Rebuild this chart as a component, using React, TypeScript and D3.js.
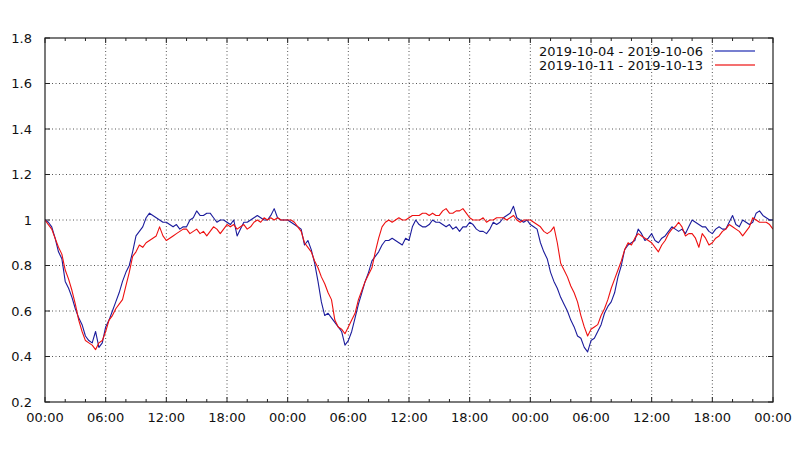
import * as d3 from "d3"

// 20-minute samples, 00:00 on day 1 through 00:00 after day 3
const week1 = [
  1.0, 0.99, 0.97, 0.92, 0.86, 0.83, 0.73, 0.7, 0.66, 0.61, 0.57, 0.54,
  0.49, 0.47, 0.46, 0.51, 0.44, 0.46, 0.53, 0.56, 0.6, 0.64, 0.68, 0.73,
  0.77, 0.8, 0.86, 0.93, 0.95, 0.97, 1.01, 1.03, 1.02, 1.01, 1.0, 0.99,
  0.99, 0.98, 0.97, 0.98, 0.96, 0.97, 0.97, 1.0, 1.01, 1.04, 1.02, 1.02,
  1.03, 1.03, 1.01, 0.99, 1.0, 1.0, 0.99, 0.98, 1.0, 0.93, 0.96, 0.99,
  0.99, 1.0, 1.01, 1.02, 1.01, 1.0, 1.0, 1.02, 1.05, 1.01, 1.0, 1.0,
  1.0, 0.99, 0.98, 0.97, 0.96, 0.89, 0.91, 0.87, 0.81, 0.73, 0.64, 0.58,
  0.59, 0.57, 0.55, 0.53, 0.51, 0.45, 0.47, 0.51, 0.57, 0.63, 0.68, 0.73,
  0.77, 0.82, 0.84, 0.86, 0.89, 0.91, 0.91, 0.92, 0.91, 0.9, 0.89, 0.92,
  0.91, 0.97, 1.0, 0.98, 0.97, 0.97, 0.98, 1.0, 0.99, 0.99, 0.98, 0.97,
  0.98, 0.96, 0.97, 0.95, 0.97, 0.97, 0.99, 0.98, 0.96, 0.95, 0.95, 0.94,
  0.96, 0.99, 0.98, 0.99, 1.01, 1.02, 1.03, 1.06, 1.01, 1.0, 0.99, 1.0,
  0.98, 0.97, 0.96, 0.9, 0.86, 0.83, 0.77, 0.73, 0.7, 0.66, 0.63, 0.6,
  0.56, 0.53, 0.49, 0.48, 0.44, 0.42, 0.47, 0.48, 0.51, 0.54, 0.59, 0.62,
  0.64, 0.68, 0.75, 0.8, 0.87, 0.89, 0.9, 0.91, 0.96, 0.94, 0.91, 0.92,
  0.94, 0.91, 0.9, 0.92, 0.93, 0.95, 0.97, 0.96, 0.95, 0.96, 0.94, 0.97,
  1.0, 0.99, 0.98, 0.97, 0.97, 0.95, 0.94, 0.96, 0.97, 0.96, 0.96, 0.99,
  1.02, 0.98, 0.97, 1.0, 0.99, 0.98, 0.99, 1.03, 1.04, 1.02, 1.01, 1.0,
  1.0,
]

const week2 = [
  1.0, 0.98, 0.96, 0.92, 0.88, 0.85, 0.78, 0.74, 0.69, 0.63, 0.56, 0.51,
  0.47, 0.46, 0.45, 0.43, 0.46, 0.47, 0.51, 0.56, 0.58, 0.61, 0.63, 0.65,
  0.71, 0.77, 0.84, 0.86, 0.89, 0.88, 0.9, 0.91, 0.92, 0.93, 0.97, 0.93,
  0.91, 0.92, 0.93, 0.94, 0.95, 0.96, 0.96, 0.94, 0.95, 0.96, 0.94, 0.95,
  0.93, 0.95, 0.97, 0.96, 0.94, 0.96, 0.98, 0.97, 0.98, 0.96, 0.97, 0.98,
  0.96, 0.97, 0.99, 1.0, 0.99, 1.01, 1.0, 1.01, 1.0, 1.01, 1.0, 1.0,
  1.0, 1.0, 0.99, 0.97, 0.95, 0.9, 0.88, 0.86, 0.82, 0.79, 0.75, 0.72,
  0.68, 0.65, 0.56, 0.53, 0.52, 0.5, 0.53, 0.56, 0.59, 0.65, 0.69, 0.73,
  0.76, 0.79, 0.86, 0.92, 0.97, 0.99, 1.0, 0.99, 1.0, 1.01, 1.0, 1.0,
  1.01, 1.02, 1.02, 1.02, 1.03, 1.03, 1.02, 1.03, 1.02, 1.02, 1.04, 1.05,
  1.03, 1.03, 1.04, 1.04, 1.05, 1.03, 1.01, 1.0, 1.0, 1.0, 1.01, 0.99,
  1.0, 1.0, 1.01, 1.01, 1.01, 1.0, 1.01, 1.02, 1.0, 0.99, 1.0, 1.0,
  1.0, 0.99, 0.98, 0.97, 0.95, 0.94, 0.95, 0.97, 0.9, 0.81, 0.78, 0.75,
  0.71, 0.68, 0.64, 0.58, 0.53, 0.49, 0.52, 0.53, 0.54, 0.58, 0.61, 0.65,
  0.7, 0.74, 0.78, 0.82, 0.87, 0.9, 0.89, 0.92, 0.94, 0.93, 0.92, 0.91,
  0.9, 0.88, 0.86, 0.89, 0.91, 0.94, 0.96, 0.97, 0.99, 0.97, 0.93, 0.94,
  0.94, 0.92, 0.88, 0.94, 0.92, 0.89, 0.9, 0.92, 0.93, 0.95, 0.96, 0.98,
  0.97, 0.96, 0.95, 0.93, 0.95, 0.97, 1.01, 1.0, 0.99, 0.99, 0.99, 0.98,
  0.96,
]

const seriesNames = ["2019-10-04 - 2019-10-06", "2019-10-11 - 2019-10-13"]
const seriesColors = ["#1c1c9c", "#ee1010"]
const legendColors = ["#4a55c0", "#f04040"]
const yTicks = [0.2, 0.4, 0.6, 0.8, 1.0, 1.2, 1.4, 1.6, 1.8]
const xTickHours = [0, 6, 12, 18, 24, 30, 36, 42, 48, 54, 60, 66, 72]
const minorHours = d3.range(0, 73, 2)
const stepHours = 1 / 3

const W = 800
const H = 450
const margin = { top: 38, right: 27, bottom: 48, left: 45 }
const font = "'DejaVu Sans', sans-serif"

export default function App() {
  const x = d3.scaleLinear().domain([0, 72]).range([margin.left, W - margin.right])
  const y = d3.scaleLinear().domain([0.2, 1.8]).range([H - margin.bottom, margin.top])

  const line = d3
    .line<number>()
    .x((_, i) => x(i * stepHours))
    .y((d) => y(d))

  const fmt = (h: number) => `${String(h % 24).padStart(2, "0")}:00`
  const x0 = margin.left
  const x1 = W - margin.right
  const y0 = H - margin.bottom
  const y1 = margin.top

  return (
    <svg
      width={W}
      height={H}
      style={{ position: "absolute", left: 0, top: 0, background: "#fff" }}
      fontFamily={font}
    >
      <defs>
        <clipPath id="plot">
          <rect x={x0} y={y1} width={x1 - x0} height={y0 - y1} />
        </clipPath>
      </defs>

      {/* grid */}
      {yTicks.slice(1, -1).map((t) => (
        <line
          key={"gy" + t}
          x1={x0}
          x2={x1}
          y1={y(t)}
          y2={y(t)}
          stroke="#555"
          strokeWidth={1}
          strokeDasharray="1,2.5"
        />
      ))}
      {xTickHours.slice(1, -1).map((h) => (
        <line
          key={"gx" + h}
          x1={x(h)}
          x2={x(h)}
          y1={y0}
          y2={y1}
          stroke="#555"
          strokeWidth={1}
          strokeDasharray="1,2.5"
        />
      ))}

      {/* minor ticks top and bottom */}
      {minorHours
        .filter((h) => h % 6 !== 0)
        .map((h) => (
          <g key={"mt" + h}>
            <line x1={x(h)} x2={x(h)} y1={y0} y2={y0 - 3} stroke="#222" />
            <line x1={x(h)} x2={x(h)} y1={y1} y2={y1 + 3} stroke="#222" />
          </g>
        ))}
      {/* major ticks */}
      {xTickHours.map((h) => (
        <g key={"xt" + h}>
          <line x1={x(h)} x2={x(h)} y1={y0} y2={y0 - 5} stroke="#222" />
          <line x1={x(h)} x2={x(h)} y1={y1} y2={y1 + 5} stroke="#222" />
        </g>
      ))}
      {yTicks.map((t) => (
        <g key={"yt" + t}>
          <line x1={x0} x2={x0 + 5} y1={y(t)} y2={y(t)} stroke="#222" />
          <line x1={x1} x2={x1 - 5} y1={y(t)} y2={y(t)} stroke="#222" />
        </g>
      ))}

      {/* series */}
      <g clipPath="url(#plot)">
        {[week1, week2].map((s, i) => (
          <path
            key={"s" + i}
            d={line(s) || ""}
            fill="none"
            stroke={seriesColors[i]}
            strokeWidth={1.1}
            strokeLinejoin="round"
          />
        ))}
      </g>

      {/* frame */}
      <rect x={x0} y={y1} width={x1 - x0} height={y0 - y1} fill="none" stroke="#222" strokeWidth={1.2} />

      {/* y labels */}
      {yTicks.map((t) => (
        <text
          key={"yl" + t}
          x={x0 - 13}
          y={y(t)}
          dy="0.35em"
          textAnchor="end"
          fontSize={13}
          fill="#111"
        >
          {t === 1 ? "1" : t.toFixed(1)}
        </text>
      ))}

      {/* x labels */}
      {xTickHours.map((h) => (
        <text key={"xl" + h} x={x(h)} y={y0 + 20} textAnchor="middle" fontSize={13} fill="#111">
          {fmt(h)}
        </text>
      ))}

      {/* legend */}
      {seriesNames.map((name, i) => (
        <g key={"lg" + i} transform={`translate(0, ${51 + i * 14})`}>
          <text x={703} y={0} dy="0.35em" textAnchor="end" fontSize={13} fill="#111">
            {name}
          </text>
          <line x1={715} x2={755} y1={0} y2={0} stroke={legendColors[i]} strokeWidth={1.5} />
        </g>
      ))}
    </svg>
  )
}
